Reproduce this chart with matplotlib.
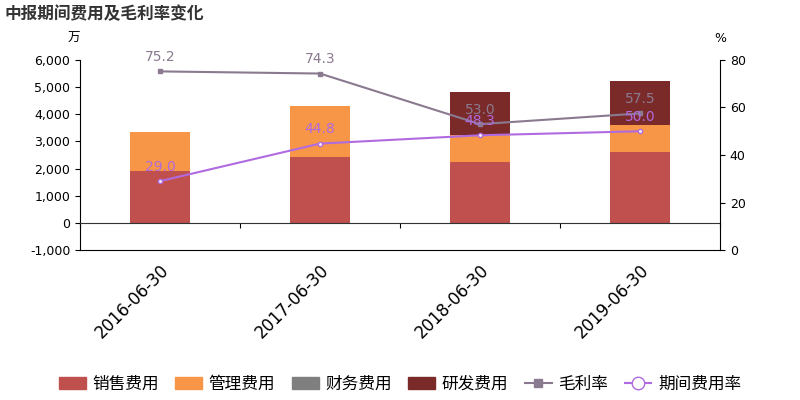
import matplotlib
matplotlib.use("Agg")
import matplotlib.pyplot as plt
from matplotlib import font_manager
from matplotlib.lines import Line2D
from matplotlib.patches import Patch

cjk = [f.name for f in font_manager.fontManager.ttflist if 'CJK' in f.name]
pref = [n for n in cjk if 'SC' in n] or cjk
plt.rcParams['font.family'] = ['DejaVu Sans'] + pref[:1] + ['Noto Sans CJK SC']

dates = ["2016-06-30", "2017-06-30", "2018-06-30", "2019-06-30"]
sales = [1900, 2430, 2230, 2620]
admin = [1450, 1880, 1000, 1000]
finance = [0, 0, -50, 0]
research = [0, 0, 1600, 1620]
gross_margin = [75.2, 74.3, 53.0, 57.5]
expense_rate = [29.0, 44.8, 48.3, 50.0]

c_sales, c_admin, c_fin, c_rd = "#c0504d", "#f79646", "#7f7f7f", "#7b2a2a"
c_gm, c_er = "#8a7a8f", "#b06be0"

fig = plt.figure(figsize=(8, 4), dpi=100)
ax = fig.add_axes([0.1, 0.375, 0.8, 0.475])
x = list(range(len(dates)))
w = 0.38
ax.bar(x, sales, w, color=c_sales)
ax.bar(x, admin, w, bottom=sales, color=c_admin)
ax.bar(x, finance, w, color=c_fin)
bot = [s + a for s, a in zip(sales, admin)]
ax.bar(x, research, w, bottom=bot, color=c_rd)
ax.set_ylim(-1000, 6000)
ax.set_yticks(range(-1000, 6001, 1000))
ax.set_yticklabels([f"{v:,}" for v in range(-1000, 6001, 1000)], fontsize=9)
ax.set_xlim(-0.5, 3.5)
ax.set_xticks([-0.5, 0.5, 1.5, 2.5, 3.5])
ax.set_xticklabels([])
ax.spines['top'].set_visible(False)
ax.spines['right'].set_visible(False)
ax.spines['bottom'].set_position(('data', 0))
ax.spines['bottom'].set_color('#333333')

sec = ax.secondary_xaxis(0)
sec.set_xticks(x)
sec.set_xticklabels(dates, rotation=45, ha='right', rotation_mode='anchor', fontsize=12)
sec.tick_params(length=0, pad=8)
sec.spines['bottom'].set_visible(False)

ax2 = ax.twinx()
ax2.set_ylim(0, 80)
ax2.set_yticks(range(0, 81, 20))
ax2.tick_params(labelsize=9)
ax2.spines['top'].set_visible(False)
ax2.spines['left'].set_visible(False)
ax2.plot(x, gross_margin, color=c_gm, marker='s', ms=3)
ax2.plot(x, expense_rate, color=c_er, marker='o', ms=3, mfc='white')
for i in x:
    ax2.text(i, gross_margin[i] + 3, f"{gross_margin[i]:.1f}", color=c_gm, ha='center', va='bottom', fontsize=10)
    ax2.text(i, expense_rate[i] + 3, f"{expense_rate[i]:.1f}", color=c_er, ha='center', va='bottom', fontsize=10)

fig.text(0.005, 0.965, "中报期间费用及毛利率变化", fontsize=12, fontweight='bold', color='#333333', va='center')
fig.text(0.1, 0.905, "万", fontsize=9, ha='right', va='center')
fig.text(0.9, 0.905, "%", fontsize=9, ha='center', va='center')

handles = [Patch(color=c_sales), Patch(color=c_admin), Patch(color=c_fin), Patch(color=c_rd),
           Line2D([], [], color=c_gm, marker='s'), Line2D([], [], color=c_er, marker='o', mfc='white', ms=9)]
labels = ["销售费用", "管理费用", "财务费用", "研发费用", "毛利率", "期间费用率"]
fig.legend(handles, labels, loc='center', bbox_to_anchor=(0.5, 0.04), ncol=6, frameon=False,
           fontsize=12, handlelength=1.6, columnspacing=1.0, handletextpad=0.4)
fig.savefig("out.png")
